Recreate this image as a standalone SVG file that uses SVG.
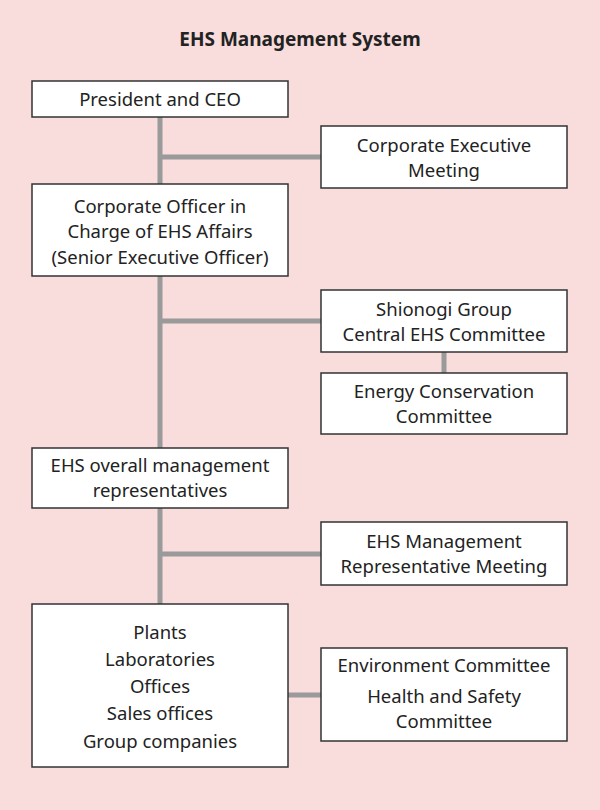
<svg xmlns="http://www.w3.org/2000/svg" width="600" height="810" viewBox="0 0 600 810">
<style>
.b{fill:#fff;stroke:#333;stroke-width:1.5}
text{font-family:"Noto Sans","Liberation Sans",sans-serif;font-size:18.5px;fill:#222;text-anchor:middle}
.c{stroke:#9a9a9a;stroke-width:5;fill:none}
</style>
<rect width="600" height="810" fill="#f9dcdc"/>
<text x="300" y="46" style="font-weight:bold;font-size:19px">EHS Management System</text>
<g id="connectors">
<path class="c" d="M160 117V604M160 157H321M160 321H321M160 554H321M444 352V373M288 695H321"/>
</g>
<g id="n1"><rect class="b" x="32" y="81" width="256" height="36"/><text x="160" y="106">President and CEO</text></g>
<g id="n2"><rect class="b" x="321" y="126" width="246" height="62"/><text x="444" y="152">Corporate Executive</text><text x="444" y="177">Meeting</text></g>
<g id="n3"><rect class="b" x="32" y="184" width="256" height="92"/><text x="160" y="213">Corporate Officer in</text><text x="160" y="238">Charge of EHS Affairs</text><text x="160" y="264">(Senior Executive Officer)</text></g>
<g id="n4"><rect class="b" x="321" y="290" width="246" height="62"/><text x="444" y="316">Shionogi Group</text><text x="444" y="341">Central EHS Committee</text></g>
<g id="n5"><rect class="b" x="321" y="373" width="246" height="61"/><text x="444" y="398">Energy Conservation</text><text x="444" y="423">Committee</text></g>
<g id="n6"><rect class="b" x="32" y="448" width="256" height="60"/><text x="160" y="472">EHS overall management</text><text x="160" y="497">representatives</text></g>
<g id="n7"><rect class="b" x="321" y="522" width="246" height="63"/><text x="444" y="548">EHS Management</text><text x="444" y="573">Representative Meeting</text></g>
<g id="n8"><rect class="b" x="32" y="604" width="256" height="163"/><text x="160" y="639">Plants</text><text x="160" y="666">Laboratories</text><text x="160" y="693">Offices</text><text x="160" y="720">Sales offices</text><text x="160" y="748">Group companies</text></g>
<g id="n9"><rect class="b" x="321" y="648" width="246" height="93"/><text x="444" y="672">Environment Committee</text><text x="444" y="703">Health and Safety</text><text x="444" y="728">Committee</text></g>
</svg>
